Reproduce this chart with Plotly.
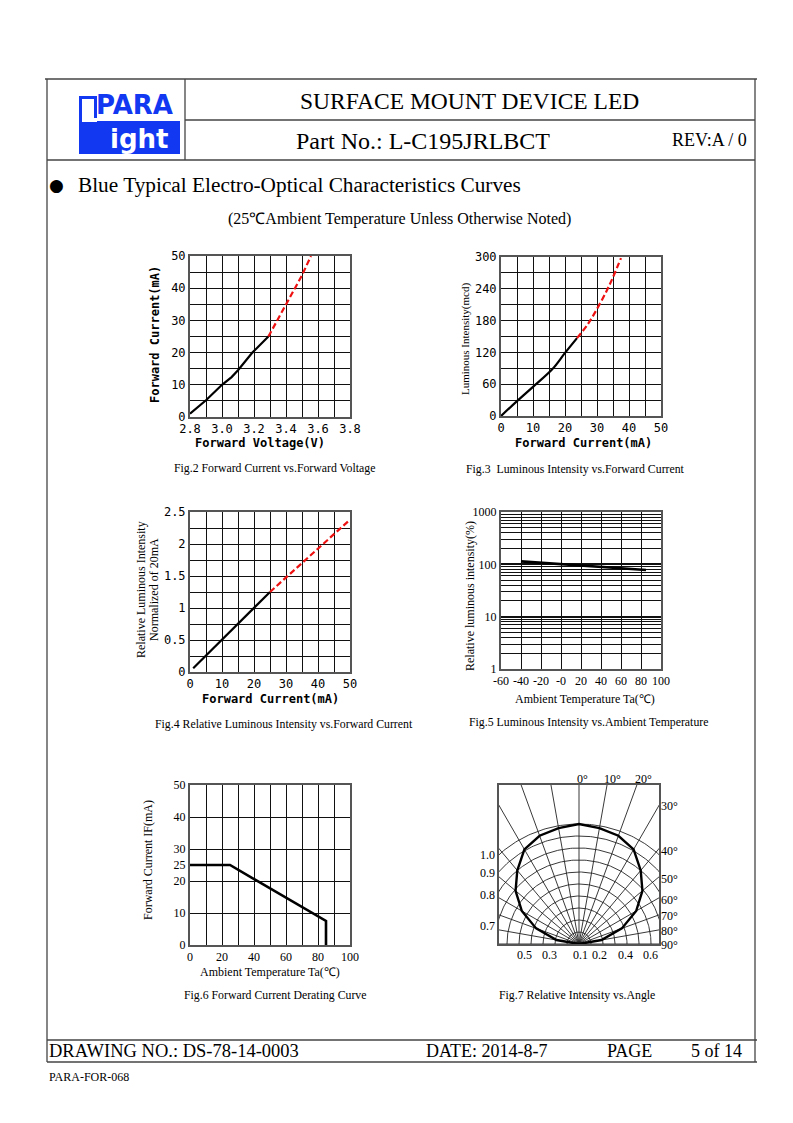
import numpy as np
import plotly.graph_objects as go

# Page is 793x1123; the browser body keeps an 8px margin, so the figure is
# 777x1107 and placed at (8, 8). Coordinates below are page pixels.
PAGE_W, PAGE_H = 793, 1123
OFF = 8
W, H = PAGE_W - 2 * OFF, PAGE_H - 2 * OFF

# ---------------- DATA ----------------
# Fig.2 Forward Current vs Forward Voltage
fig2_v_solid = [2.80, 2.90, 3.00, 3.06, 3.10, 3.19, 3.29]
fig2_i_solid = [1.0, 5.2, 10.0, 12.4, 14.5, 20.0, 25.0]
fig2_v_dash = [3.29, 3.35, 3.40, 3.45, 3.50, 3.556]
fig2_i_dash = [25.0, 30.3, 35.0, 39.4, 44.0, 50.0]

# Fig.3 Luminous Intensity vs Forward Current
fig3_i_solid = [0, 5, 10, 16, 20, 23.75]
fig3_l_solid = [0, 28, 55, 88, 119, 147]
fig3_i_dash = [23.75, 27, 30, 33, 35, 37.5]
fig3_l_dash = [147, 172, 202, 236, 262, 298]

# Fig.4 Relative Luminous Intensity vs Forward Current
fig4_i_solid = [1, 25]
fig4_r_solid = [0.06, 1.25]
fig4_i_dash = [25, 50]
fig4_r_dash = [1.25, 2.38]

# Fig.5 Luminous Intensity vs Ambient Temperature
fig5_t = [-40, -20, 0, 20, 40, 60, 85]
fig5_r = [114, 107, 101, 95, 89, 84, 78]
fig5_ticks = [-60, -40, -20, 0, 20, 40, 60, 80, 100]
fig5_ticktext = ["-60", "-40", "-20", "-0", "20", "40", "60", "80", "100"]

# Fig.6 Forward Current Derating Curve
fig6_t = [0, 25, 85, 85]
fig6_i = [25, 25, 7.5, 0]
fig6_yticks = [0, 10, 20, 25, 30, 40, 50]

# Fig.7 Relative Intensity vs Angle
fig7_angle = [-90, -80, -70, -60, -50, -40, -30, -20, -10, 0,
              10, 20, 30, 40, 50, 60, 70, 80, 90]
fig7_rel = [0.0, 0.19, 0.38, 0.55, 0.69, 0.80, 0.91, 0.96, 0.98, 1.0,
            0.98, 0.96, 0.91, 0.80, 0.69, 0.55, 0.38, 0.19, 0.0]

# ---------------- HELPERS ----------------
def fx(p):
    return (p - OFF) / W

def fy(p):
    return 1 - (p - OFF) / H

SERIF = "Liberation Serif"
MONO = "DejaVu Sans Mono"
BLUE = "#1238f2"
CAP = 11.8

fig = go.Figure()
annotations = []
shapes = []

def txt(x, y, s, size, family=SERIF, xanchor="left", color="black", angle=0, bold=False):
    if bold:
        s = "<b>" + s + "</b>"
    annotations.append(dict(x=fx(x), y=fy(y), xref="paper", yref="paper", text=s,
                            showarrow=False, xanchor=xanchor, yanchor="middle",
                            textangle=angle, borderpad=0,
                            font=dict(family=family, size=size, color=color)))

def hline(x0, x1, y, w=1.3, color="#444"):
    shapes.append(dict(type="line", xref="paper", yref="paper", x0=fx(x0), x1=fx(x1),
                       y0=fy(y), y1=fy(y), line=dict(color=color, width=w)))

def vline(x, y0, y1, w=1.3, color="#444"):
    shapes.append(dict(type="line", xref="paper", yref="paper", x0=fx(x), x1=fx(x),
                       y0=fy(y0), y1=fy(y1), line=dict(color=color, width=w)))

def rect(x0, y0, x1, y1, fill):
    shapes.append(dict(type="rect", xref="paper", yref="paper", x0=fx(x0), x1=fx(x1),
                       y0=fy(y1), y1=fy(y0), fillcolor=fill,
                       line=dict(width=0), layer="below"))

# ---------------- PAGE FRAME ----------------
hline(45, 757, 79, 1.6)
vline(47, 79, 1062, 1.3)
vline(755, 79, 1062, 1.3)
vline(185, 79, 160, 1.3)
hline(185, 755, 120, 1.3)
hline(47, 755, 160, 1.3)
hline(47, 757, 1040, 1.3)
hline(47, 757, 1062, 1.3)

# Logo
rect(79, 96, 97, 121, BLUE)
rect(82, 99, 94, 118, "white")
rect(79, 121, 180, 154, BLUE)
rect(82, 118, 97, 122, "white")
txt(135, 105, "PARA", 26, family="DejaVu Sans", xanchor="center", color=BLUE, bold=True)
txt(139, 139, "ight", 26, family="DejaVu Sans", xanchor="center", color="white", bold=True)

# Header texts
txt(469, 101, "SURFACE MOUNT DEVICE LED", 23.5, xanchor="center")
txt(423, 141, "Part No.: L-C195JRLBCT", 24, xanchor="center")
txt(709, 140, "REV:A / 0", 18, xanchor="center")

# Section heading
txt(57, 185, "●", 17, family="DejaVu Sans", xanchor="center")
txt(77, 185, "Blue Typical Electro-Optical Characteristics Curves", 21.3)
txt(400, 219, "(25℃Ambient Temperature Unless Otherwise Noted)", 16, xanchor="center")

# Footer
txt(48, 1051, "DRAWING NO.: DS-78-14-0003", 18.5)
txt(425, 1051, "DATE: 2014-8-7", 18)
txt(606, 1051, "PAGE", 18)
txt(690, 1051, "5 of 14", 18)
txt(48, 1077, "PARA-FOR-068", 12)

# ---------------- SUBPLOTS ----------------
boxes = {
    1: (190, 350, 256, 417),
    2: (501, 661, 257, 416),
    3: (190, 350, 512, 672),
    4: (501, 661, 512, 669),
    5: (190, 350, 785, 945),
    6: (499, 659, 785, 944),
}

def axname(i, a):
    return a + ("axis" if i == 1 else "axis%d" % i)

def ref(i, a):
    return a if i == 1 else a + str(i)

GRID = "#111111"
FRAME = "#555555"
layout_axes = {}

def base_axis(i, a, dom, **kw):
    d = dict(domain=dom, anchor=ref(i, "y" if a == "x" else "x"), showline=True, mirror=True,
             linecolor=FRAME, linewidth=2, ticks="", zeroline=False, automargin=False,
             showgrid=True, gridcolor=GRID, gridwidth=1.2, fixedrange=True)
    d.update(kw)
    layout_axes[axname(i, a)] = d

tickfont_sans = dict(family=MONO, size=12, color="black")
tickfont_serif = dict(family=SERIF, size=12, color="black")

# Fig 2
b = boxes[1]
base_axis(1, "x", [fx(b[0]), fx(b[1])], range=[2.8, 3.8], tick0=2.8, dtick=0.2, tickformat=".1f",
          tickfont=tickfont_sans, minor=dict(dtick=0.1, tick0=2.8, showgrid=True, gridcolor=GRID, gridwidth=1.2))
base_axis(1, "y", [fy(b[3]), fy(b[2])], range=[0, 50], dtick=10, tickfont=tickfont_sans,
          minor=dict(dtick=5, showgrid=True, gridcolor=GRID, gridwidth=1.2))
fig.add_trace(go.Scatter(x=fig2_v_solid, y=fig2_i_solid, mode="lines", xaxis="x", yaxis="y",
                         line=dict(color="black", width=2.2), showlegend=False))
fig.add_trace(go.Scatter(x=fig2_v_dash, y=fig2_i_dash, mode="lines", xaxis="x", yaxis="y",
                         line=dict(color="#ee1111", width=2.2, dash="6px,3px"), showlegend=False))
txt(155, 335, "Forward Current(mA)", 12, family=MONO, xanchor="center", angle=-90, bold=True)
txt(260, 443, "Forward Voltage(V)", 12, family=MONO, xanchor="center", bold=True)
txt(173, 468, "Fig.2 Forward Current vs.Forward Voltage", CAP)

# Fig 3
b = boxes[2]
base_axis(2, "x", [fx(b[0]), fx(b[1])], range=[0, 50], dtick=10, tickfont=tickfont_sans,
          minor=dict(dtick=5, showgrid=True, gridcolor=GRID, gridwidth=1.2))
base_axis(2, "y", [fy(b[3]), fy(b[2])], range=[0, 300], dtick=60, tickfont=tickfont_sans,
          minor=dict(dtick=30, showgrid=True, gridcolor=GRID, gridwidth=1.2))
fig.add_trace(go.Scatter(x=fig3_i_solid, y=fig3_l_solid, mode="lines", xaxis="x2", yaxis="y2",
                         line=dict(color="black", width=2.2, shape="spline"), showlegend=False))
fig.add_trace(go.Scatter(x=fig3_i_dash, y=fig3_l_dash, mode="lines", xaxis="x2", yaxis="y2",
                         line=dict(color="#ee1111", width=2.2, dash="6px,3px", shape="spline"), showlegend=False))
txt(465, 339, "Luminous Intensity(mcd)", 11, xanchor="center", angle=-90)
txt(583, 443, "Forward Current(mA)", 12, family=MONO, xanchor="center", bold=True)
txt(465, 469, "Fig.3  Luminous Intensity vs.Forward Current", CAP)

# Fig 4
b = boxes[3]
base_axis(3, "x", [fx(b[0]), fx(b[1])], range=[0, 50], dtick=10, tickfont=tickfont_sans,
          minor=dict(dtick=5, showgrid=True, gridcolor=GRID, gridwidth=1.2))
base_axis(3, "y", [fy(b[3]), fy(b[2])], range=[0, 2.5], dtick=0.5, tickfont=tickfont_sans,
          minor=dict(dtick=0.25, showgrid=True, gridcolor=GRID, gridwidth=1.2))
fig.add_trace(go.Scatter(x=fig4_i_solid, y=fig4_r_solid, mode="lines", xaxis="x3", yaxis="y3",
                         line=dict(color="black", width=2.2), showlegend=False))
fig.add_trace(go.Scatter(x=fig4_i_dash, y=fig4_r_dash, mode="lines", xaxis="x3", yaxis="y3",
                         line=dict(color="#ee1111", width=2.2, dash="6px,3px"), showlegend=False))
txt(141, 590, "Relative Luminous Intensity", 12, xanchor="center", angle=-90)
txt(154, 590, "Normalized of 20mA", 12, xanchor="center", angle=-90)
txt(270, 699, "Forward Current(mA)", 12, family=MONO, xanchor="center", bold=True)
txt(154, 724, "Fig.4 Relative Luminous Intensity vs.Forward Current", CAP)

# Fig 5
b = boxes[4]
base_axis(4, "x", [fx(b[0]), fx(b[1])], range=[-60, 100], tickmode="array", tickvals=fig5_ticks,
          ticktext=fig5_ticktext, tickfont=tickfont_serif)
base_axis(4, "y", [fy(b[3]), fy(b[2])], type="log", range=[0, 3], tickmode="array",
          tickvals=[1, 10, 100, 1000], ticktext=["1", "10", "100", "1000"], tickfont=tickfont_serif,
          gridwidth=1.6,
          minor=dict(tickmode="array",
                     tickvals=[2, 3, 4, 5, 6, 7, 8, 9, 20, 30, 40, 50, 60, 70, 80, 90,
                               200, 300, 400, 500, 600, 700, 800, 900],
                     showgrid=True, gridcolor=GRID, gridwidth=1.2))
fig.add_trace(go.Scatter(x=fig5_t, y=fig5_r, mode="lines", xaxis="x4", yaxis="y4",
                         line=dict(color="black", width=2.6), showlegend=False))
txt(470, 596, "Relative luminous intensity(%)", 12, xanchor="center", angle=-90)
txt(585, 699, "Ambient Temperature Ta(℃)", 12, xanchor="center")
txt(468, 722, "Fig.5 Luminous Intensity vs.Ambient Temperature", CAP)

# Fig 6
b = boxes[5]
base_axis(5, "x", [fx(b[0]), fx(b[1])], range=[0, 100], dtick=20, tickfont=tickfont_serif,
          minor=dict(dtick=10, showgrid=True, gridcolor=GRID, gridwidth=1.2))
base_axis(5, "y", [fy(b[3]), fy(b[2])], range=[0, 50], tickmode="array", tickvals=fig6_yticks,
          tickfont=tickfont_serif, showgrid=False,
          minor=dict(tickmode="array", tickvals=[10, 20, 30, 40], showgrid=True,
                     gridcolor=GRID, gridwidth=1.2))
fig.add_trace(go.Scatter(x=fig6_t, y=fig6_i, mode="lines", xaxis="x5", yaxis="y5",
                         line=dict(color="black", width=2.6), showlegend=False))
txt(148, 860, "Forward Current IF(mA)", 12, xanchor="center", angle=-90)
txt(270, 972, "Ambient Temperature Ta(℃)", 12, xanchor="center")
txt(183, 995, "Fig.6 Forward Current Derating Curve", CAP)

# Fig 7 (polar-style grid on a cartesian box, 1.0 intensity = 120 px)
b = boxes[6]
base_axis(6, "x", [fx(b[0]), fx(b[1])], range=[-80 / 120, 80 / 120], showgrid=False,
          showticklabels=False)
base_axis(6, "y", [fy(b[3]), fy(b[2])], range=[0, 159 / 120], showgrid=False,
          showticklabels=False)
gx, gy = [], []
for a in range(-90, 91, 10):
    t = np.radians(a)
    gx += [0, 2 * np.sin(t), None]
    gy += [0, 2 * np.cos(t), None]
tt = np.radians(np.linspace(-90, 90, 181))
for r in np.arange(0.1, 1.01, 0.1):
    gx += list(r * np.sin(tt)) + [None]
    gy += list(r * np.cos(tt)) + [None]
fig.add_trace(go.Scatter(x=gx, y=gy, mode="lines", xaxis="x6", yaxis="y6",
                         line=dict(color="#222", width=0.9), showlegend=False, hoverinfo="skip"))
ang = np.radians(fig7_angle)
rel = np.array(fig7_rel)
fig.add_trace(go.Scatter(x=rel * np.sin(ang), y=rel * np.cos(ang), mode="lines", xaxis="x6", yaxis="y6",
                         line=dict(color="black", width=2.4), showlegend=False))
txt(582, 779, "0°", 12, xanchor="center")
txt(612, 779, "10°", 12, xanchor="center")
txt(643, 779, "20°", 12, xanchor="center")
for lab, yy in [("30°", 806), ("40°", 851), ("50°", 879), ("60°", 900),
                ("70°", 916), ("80°", 931), ("90°", 945)]:
    txt(660, yy, lab, 12)
for lab, yy in [("1.0", 855), ("0.9", 873), ("0.8", 895), ("0.7", 926)]:
    txt(496, yy, lab, 12, xanchor="right")
for lab, xx in [("0.5", 524), ("0.3", 549), ("0.1", 580), ("0.2", 599), ("0.4", 625), ("0.6", 650)]:
    txt(xx, 955, lab, 12, xanchor="center")
txt(498, 995, "Fig.7 Relative Intensity vs.Angle", CAP)

fig.update_layout(
    width=W, height=H, margin=dict(l=0, r=0, t=0, b=0, pad=0, autoexpand=False),
    paper_bgcolor="white", plot_bgcolor="white",
    showlegend=False, annotations=annotations, shapes=shapes,
    **layout_axes,
)

fig.write_html("out.html", config={"displayModeBar": False})
